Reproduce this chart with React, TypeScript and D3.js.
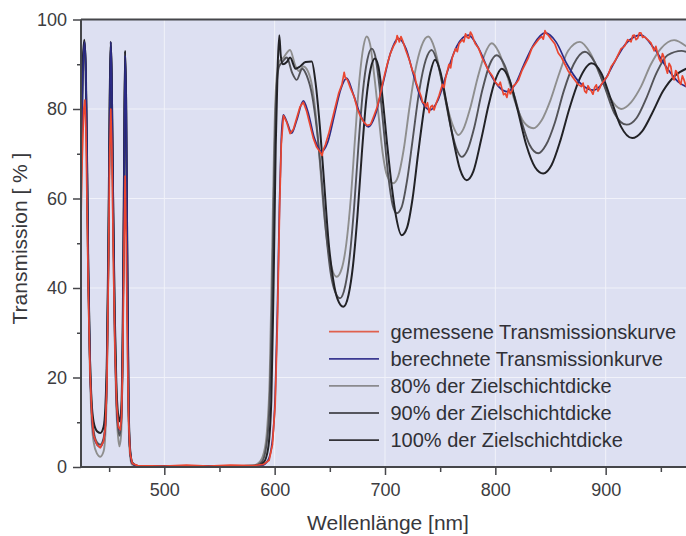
import React, { useEffect, useRef } from "react";
import * as d3 from "d3";

type Pt = [number, number];

// Wellenlänge [nm], Transmission [%]
const leftBlock: Pt[] = [[476, 0.2], [520, 0.2], [560, 0.2]];

const t80: Pt[] = [
  [424.5, 60], [426, 86], [427.6, 94], [428.8, 87], [429.8, 68], [431, 42], [432.5, 22], [434, 11], [436, 5.5],
  [439, 3], [442, 2.3], [445, 3.5], [446.5, 7], [448, 19], [449.3, 46], [450.5, 80], [451.3, 94], [452.2, 86],
  [453.4, 58], [454.9, 30], [456.4, 14], [458, 7], [459.3, 4.6], [460.8, 7], [462.1, 23], [463.2, 55], [464.3, 92],
  [465.3, 78], [466.4, 40], [467.5, 12], [468.8, 3], [470.5, 0.6], ...leftBlock,
  [580, 0.3], [586, 1], [590, 3], [593, 8], [595.5, 20], [597.5, 45], [599.5, 72], [601.5, 86], [604, 90.5],
  [608, 91.5], [613.9, 93.2], [619, 89.5], [622, 88.5], [626, 89.5], [630, 88.5], [634, 85], [638, 77], [641, 68],
  [645, 56], [650, 46.5], [656.2, 42.5], [661, 44.5], [665, 50], [669, 60], [673, 74], [677, 87], [680.5, 94],
  [683.4, 96.2], [686.5, 94.5], [690, 88], [694, 79], [698, 70], [702, 65], [707.5, 63.4], [712, 65], [717, 71],
  [722, 80], [727, 88], [733, 94], [739.2, 96.2], [745, 93.5], [751, 87], [757, 80], [762, 76], [766.4, 74.2],
  [771, 75.5], [777, 80], [784, 87], [790, 92], [796.7, 94.7], [803, 92.8], [810, 88], [818, 81.5], [826, 77],
  [834.4, 75.7], [842, 77.5], [850, 82], [858, 88], [866, 93], [876.7, 95], [886, 92.5], [895, 87.5], [904, 82.5],
  [914, 80], [923, 81.5], [932, 85], [941, 90], [950, 93.5], [962, 95.4], [973, 94],
];

const t90: Pt[] = [
  [424.5, 65], [426, 88], [427.8, 95], [429, 88], [430, 70], [431.2, 44], [432.7, 24], [434.2, 13], [436, 8],
  [439, 5.5], [442, 5], [445, 6.5], [446.6, 10], [448, 22], [449.4, 48], [450.6, 82], [451.5, 95], [452.4, 87],
  [453.6, 60], [455.1, 32], [456.6, 16], [458, 9], [459.5, 7], [461, 10], [462.3, 26], [463.4, 58], [464.5, 93],
  [465.5, 80], [466.6, 42], [467.7, 13], [469, 3.5], [471, 0.8], ...leftBlock,
  [582, 0.3], [588, 1], [592, 4], [595, 12], [597.5, 35], [599.5, 65], [601.5, 84], [604, 89.5],
  [607, 90.5], [611, 91.5], [616, 88], [620, 86.5], [625, 89], [629, 87.5], [634, 83], [638, 76], [642, 66],
  [646, 54], [651, 43], [655, 39], [659.2, 37.7], [664, 40.5], [668, 47], [672, 58], [676, 72], [680, 84],
  [684, 91], [687.9, 93.5], [691, 92], [695, 85], [699, 75], [703, 65], [707, 58.5], [710.6, 56.7], [715, 58],
  [720, 64], [725, 73], [731, 84], [737, 91], [742.3, 93.2], [748, 90], [754, 83], [760, 75.5], [765, 71],
  [769.5, 69.3], [775, 71], [781, 76], [788, 84], [795, 90], [801.2, 92], [808, 90], [816, 84], [824, 77],
  [831, 72], [838.9, 70.1], [846, 72], [854, 77], [862, 84], [871, 90], [881.2, 92.8], [890, 90.5], [899, 85],
  [908, 79], [919, 76.5], [928, 78], [937, 82.5], [946, 88], [956, 92], [968.8, 93], [973, 92.8],
];

const t100: Pt[] = [
  [424.5, 72], [426, 90], [427.5, 95.5], [428.7, 90], [429.8, 72], [431, 45], [432.5, 25], [434, 15], [436, 10],
  [439, 8], [442, 7.6], [445, 9], [446.5, 13], [448, 25], [449.3, 50], [450.5, 82], [451.4, 95], [452.3, 88],
  [453.5, 62], [455, 35], [456.5, 19], [458, 12], [459.5, 10.2], [461, 13], [462.2, 28], [463.3, 60], [464.4, 93],
  [465.4, 82], [466.5, 45], [467.6, 15], [469, 4], [471, 1], ...leftBlock,
  [584, 0.3], [590, 1], [594, 4], [597, 15], [599, 40], [601, 72], [602.8, 90], [604.2, 96.5], [605.5, 92],
  [607.5, 90], [611, 90.5], [614, 91.5], [619, 89], [623, 89.5], [628, 90.5], [633.6, 90.6], [637, 86], [641, 76],
  [645, 63], [649, 50], [653, 42], [657, 37.5], [662.2, 35.8], [667, 38.5], [671, 45], [675, 56], [679, 70],
  [683, 82], [687, 89], [690.9, 91.3], [694, 89.5], [698, 82], [702, 72], [706, 63], [710, 56], [715.1, 51.8],
  [720, 53.5], [725, 60], [730, 70], [736, 81], [741, 88], [745.3, 91], [750, 88.5], [756, 81], [762, 73],
  [768, 66.5], [774, 64.1], [780, 66], [787, 73], [794, 81], [800, 86.5], [805.7, 89], [812, 87], [820, 80],
  [828, 72], [836, 67], [843.4, 65.6], [851, 67.5], [859, 73], [867, 80], [876, 86.5], [887.3, 90.2], [896, 88],
  [905, 82], [914, 76], [924, 73.5], [933, 75], [942, 79], [952, 84], [963, 87.5], [973, 89],
];

const berechnet: Pt[] = [
  [424.5, 62], [426, 86], [427.7, 95], [429, 87], [430, 68], [431.2, 42], [432.7, 22], [434.2, 12], [436, 7],
  [439, 5], [442, 4.5], [445, 6], [446.6, 9.5], [448, 21], [449.4, 47], [450.6, 80], [451.5, 95], [452.4, 86],
  [453.6, 58], [455.1, 30], [456.6, 15], [458, 9.5], [459.5, 8.3], [461, 11], [462.3, 27], [463.4, 58], [464.5, 92],
  [465.5, 79], [466.6, 42], [467.7, 13], [469, 3.5], [471, 0.8], ...leftBlock,
  [588, 0.3], [594, 1.5], [598, 6], [600.5, 16], [602.5, 35], [604.5, 60], [606, 73], [607.8, 78.7], [611, 77.2],
  [615.4, 74.6], [620, 77.5], [626, 81.8], [630, 79.5], [636, 73.5], [642.6, 70.5], [648, 72.5], [654, 78.5],
  [660, 84.5], [665.3, 86.9], [671, 83.5], [678, 78.5], [684.9, 76], [691, 78.5], [698, 85.5], [705, 92.5],
  [712, 95.8], [719, 93.5], [726, 87.5], [733, 82], [740.8, 79.8], [748, 82], [756, 88], [765, 94], [775.5, 96.5],
  [785, 93.5], [795, 88], [803, 85], [810.3, 83.9], [818, 85.5], [826, 90], [835, 94.5], [845, 97], [855, 95],
  [865, 90], [876, 86], [888.7, 84.2], [898, 86], [908, 90.5], [918, 94.5], [932, 96.5], [944, 93.5], [956, 89],
  [966, 86], [973, 85],
];

const gemessen: Pt[] = [
  [424.5, 55], [425.5, 68], [427, 80], [428, 82], [429, 75], [430, 58], [431.2, 38], [432.7, 21], [434.2, 12],
  [436, 7], [439, 5], [442, 4.3], [445, 5.8], [446.6, 9], [448, 19], [449.4, 44], [450.5, 70], [451.5, 80],
  [452.5, 71], [453.8, 47], [455.3, 26], [456.8, 14], [458.3, 9], [460, 8.3], [461.2, 11], [462.4, 25], [463.5, 50],
  [464.5, 65], [465.5, 50], [466.6, 26], [467.7, 10], [469, 3], [471, 0.8], [476, 0.3], [500, 0.2], [520, 0.4],
  [540, 0.2], [560, 0.4], [580, 0.3], [590, 0.6], [595, 1.5], [598, 5], [600.5, 14], [602.5, 32], [604.5, 58],
  [606, 72], [608, 78.5], [611, 77], [614, 74.5], [617, 75.5], [620, 78], [623, 80.5], [626, 81.5], [629, 79.5],
  [632, 76.5], [635, 73.5], [638, 71.5], [641, 70.5], [643, 69.6], [644, 70.8], [646, 72], [649, 74.5], [652, 77.5],
  [655, 80.5], [658, 83.5], [661, 85.5], [663, 88.2], [664, 87], [666, 86.5], [669, 84.5], [672, 82.8], [675, 80],
  [678, 78.2], [681, 77], [684, 76.3], [687, 76.6], [690, 78.5], [693, 80.5], [696, 83.5], [699, 87], [702, 90],
  [705, 92.5], [708, 94.2], [710, 95], [711, 96.4], [713, 95], [714.5, 96.2], [716, 95.3], [719, 93], [722, 91],
  [725, 88.5], [727, 87.5], [728, 86], [731, 84], [733, 82.6], [734, 81.5], [736, 81.2], [737, 80.5], [738.5, 81.4],
  [740, 79.2], [741.5, 80.5], [743, 80.8], [744.5, 79.8], [746, 81], [749, 83], [752, 85.5], [753.5, 84.8],
  [755, 87], [758, 90], [759.5, 89.2], [761, 91.5], [764, 93.5], [765.5, 92.8], [767, 94.5], [770, 95.5],
  [771.5, 95], [773, 96.8], [774.5, 96], [776, 95.8], [777.5, 97.2], [779, 96.5], [780.5, 95.4], [782, 94.5],
  [785, 93.5], [788, 91.5], [791, 90], [794, 88.5], [797, 87.5], [800, 86], [803, 85.2], [804.5, 86], [806, 84.5],
  [807.5, 83.2], [809, 83.5], [810.5, 82.6], [812, 84.5], [813.5, 83.4], [815, 84], [816.5, 85.2], [818, 85.5],
  [821, 86.5], [824, 88.5], [827, 90], [830, 91.5], [833, 93.5], [836, 94.5], [839, 95.5], [842, 96.2], [843.5, 95.6],
  [845, 97.5], [846.5, 96.8], [848, 96.5], [851, 95.5], [854, 94.5], [857, 92.5], [860, 91.5], [863, 90], [866, 88.5],
  [869, 87.5], [872, 86.5], [875, 85.5], [878, 85], [879.5, 85.8], [881, 84], [882.5, 83.6], [884, 85.2],
  [885.5, 84.5], [887, 84], [888.5, 83.3], [890, 84.8], [891.5, 85.4], [893, 84], [894.5, 84.6], [896, 85.5],
  [899, 86.5], [902, 87.5], [905, 89.5], [908, 90.5], [911, 92], [914, 93.5], [917, 94], [920, 95.5], [923, 95],
  [924.5, 96.4], [926, 96.5], [927.5, 95.5], [929, 95.8], [930.5, 97], [932, 97], [933.5, 96], [935, 96.2],
  [938, 95.5], [941, 94.8], [942.5, 93.8], [944, 93], [945.5, 94], [947, 92.5], [948.5, 91.2], [950, 90.5],
  [951.5, 92.4], [953, 91.5], [954.5, 89.2], [956, 88], [957.5, 90.2], [959, 89.5], [960.5, 87.2], [962, 86.5],
  [963.5, 88.6], [965, 88], [966.5, 86.2], [968, 85.5], [969.5, 87.4], [971, 86.5], [973, 85],
];

const xMajor = [500, 600, 700, 800, 900];
const xMinor = [450, 550, 650, 750, 850, 950];
const yMajor = [0, 20, 40, 60, 80, 100];
const yMinor = [10, 30, 50, 70, 90];

const seriesLabels = [
  "gemessene Transmissionskurve",
  "berechnete Transmissionkurve",
  "80% der Zielschichtdicke",
  "90% der Zielschichtdicke",
  "100% der Zielschichtdicke",
];
const seriesColors = ["#ea4630", "#2b2a86", "#8e8e8e", "#535358", "#222226"];
const legendColors = ["#e0604e", "#3b3a92", "#8a8a8e", "#55565e", "#333338"];

const W = 686;
const H = 536;
const m = { left: 81, right: 686, top: 19.5, bottom: 467 };

const App = () => {
  const ref = useRef<SVGSVGElement>(null);

  useEffect(() => {
    const svg = d3.select(ref.current);
    svg.selectAll("*").remove();

    const x = d3.scaleLinear().domain([424.5, 972.8]).range([m.left, m.right]);
    const y = d3.scaleLinear().domain([0, 100]).range([m.bottom, m.top]);

    svg.append("rect")
      .attr("x", m.left).attr("y", m.top)
      .attr("width", m.right - m.left).attr("height", m.bottom - m.top)
      .attr("fill", "#dde0f2");

    // grid
    const grid = svg.append("g").attr("stroke", "#f4f5fb").attr("stroke-width", 1).attr("opacity", 0.9);
    grid.selectAll("line.gx").data(xMajor).join("line")
      .attr("x1", (d) => x(d)).attr("x2", (d) => x(d))
      .attr("y1", m.top).attr("y2", m.bottom);
    grid.selectAll("line.gy").data(yMajor.slice(1, -1)).join("line")
      .attr("x1", m.left).attr("x2", m.right)
      .attr("y1", (d) => y(d)).attr("y2", (d) => y(d));

    svg.append("clipPath").attr("id", "clip")
      .append("rect")
      .attr("x", m.left).attr("y", m.top - 2)
      .attr("width", m.right - m.left).attr("height", m.bottom - m.top + 2);

    const smooth = d3.line<Pt>().x((d) => x(d[0])).y((d) => y(d[1])).curve(d3.curveMonotoneX);
    const raw = d3.line<Pt>().x((d) => x(d[0])).y((d) => y(d[1]));

    const lines = svg.append("g").attr("clip-path", "url(#clip)").attr("fill", "none");
    const draw = [
      { data: t80, color: seriesColors[2], w: 1.9, gen: smooth },
      { data: t90, color: seriesColors[3], w: 1.9, gen: smooth },
      { data: t100, color: seriesColors[4], w: 2, gen: smooth },
      { data: berechnet, color: seriesColors[1], w: 1.7, gen: smooth },
      { data: gemessen, color: seriesColors[0], w: 1.7, gen: raw },
    ];
    draw.forEach((s) => {
      lines.append("path")
        .attr("d", s.gen(s.data))
        .attr("stroke", s.color)
        .attr("stroke-width", s.w)
        .attr("stroke-linejoin", "round");
    });

    // axes
    const axisColor = "#45464a";
    const styleAxis = (g: any) => {
      g.select(".domain").remove();
      g.selectAll("line").attr("stroke", axisColor).attr("stroke-width", 1.5);
      g.selectAll("text")
        .attr("fill", "#3c3c40")
        .attr("font-size", 18)
        .attr("font-family", "Liberation Sans, Arial, sans-serif");
    };

    svg.append("g").attr("transform", `translate(0,${m.bottom})`)
      .call(d3.axisBottom(x).tickValues(xMajor).tickSize(8).tickPadding(8).tickFormat(d3.format("d")))
      .call(styleAxis);
    svg.append("g").attr("transform", `translate(0,${m.bottom})`)
      .call(d3.axisBottom(x).tickValues(xMinor).tickSize(5).tickFormat(() => ""))
      .call(styleAxis);
    svg.append("g").attr("transform", `translate(${m.left},0)`)
      .call(d3.axisLeft(y).tickValues(yMajor).tickSize(8).tickPadding(6).tickFormat(d3.format("d")))
      .call(styleAxis);
    svg.append("g").attr("transform", `translate(${m.left},0)`)
      .call(d3.axisLeft(y).tickValues(yMinor).tickSize(4).tickFormat(() => ""))
      .call(styleAxis);

    // frame lines
    svg.append("line").attr("x1", m.left).attr("x2", m.right).attr("y1", m.bottom).attr("y2", m.bottom)
      .attr("stroke", axisColor).attr("stroke-width", 2);
    svg.append("line").attr("x1", m.left).attr("x2", m.right).attr("y1", m.top).attr("y2", m.top)
      .attr("stroke", axisColor).attr("stroke-width", 2);
    svg.append("line").attr("x1", m.left).attr("x2", m.left).attr("y1", m.top).attr("y2", m.bottom)
      .attr("stroke", axisColor).attr("stroke-width", 2);

    // legend
    const leg = svg.append("g").attr("font-family", "Liberation Sans, Arial, sans-serif").attr("font-size", 20);
    seriesLabels.forEach((label, i) => {
      const ly = 331.7 + i * 27.1;
      leg.append("line").attr("x1", 329).attr("x2", 379).attr("y1", ly).attr("y2", ly)
        .attr("stroke", legendColors[i]).attr("stroke-width", 1.8);
      leg.append("text").attr("x", 390.5).attr("y", ly).attr("dy", "0.36em")
        .attr("fill", "#303036").text(label);
    });

    // titles
    svg.append("text").attr("x", 388).attr("y", 530).attr("text-anchor", "middle")
      .attr("font-family", "Liberation Sans, Arial, sans-serif").attr("font-size", 21)
      .attr("fill", "#38383c").text("Wellenlänge [nm]");
    svg.append("text").attr("transform", "translate(27,238.5) rotate(-90)").attr("text-anchor", "middle")
      .attr("font-family", "Liberation Sans, Arial, sans-serif").attr("font-size", 21)
      .attr("fill", "#38383c").text("Transmission [ % ]");
  }, []);

  return (
    <svg ref={ref} width={W} height={H}
      style={{ position: "absolute", left: 0, top: 0, background: "#ffffff" }} />
  );
};

export default App;
